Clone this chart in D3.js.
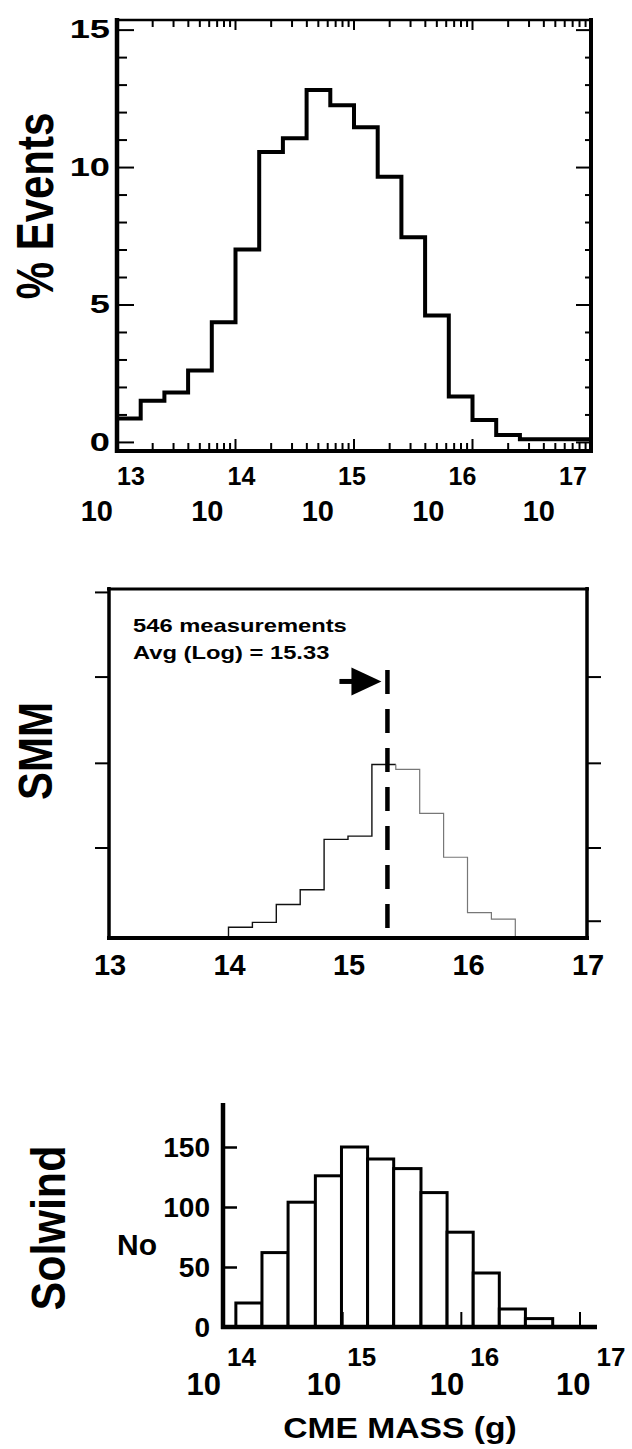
<!DOCTYPE html>
<html>
<head>
<meta charset="utf-8">
<script src="https://cdn.jsdelivr.net/npm/d3@7"></script>
<style>
  body { margin: 0; background: #fff; }
  text { font-family: "Liberation Sans", Arial, Helvetica, sans-serif; font-weight: bold; fill: #000; }
</style>
</head>
<body>
<script>
// ---- data ----
// top panel: % of events per 0.2 dex mass bin (log10 g)
var topEdges = [13.0, 13.2, 13.4, 13.6, 13.8, 14.0, 14.2, 14.4, 14.6, 14.8, 15.0,
                15.2, 15.4, 15.6, 15.8, 16.0, 16.2, 16.4, 16.6, 16.8, 17.0];
var topPct = [0.85, 1.5, 1.8, 2.6, 4.35, 7.0, 10.55, 11.05, 12.8, 12.25,
              11.45, 9.65, 7.45, 4.6, 1.65, 0.8, 0.25, 0.1, 0.1, 0.1];
var topYTicks = [0, 5, 10, 15];
var topDecades = [13, 14, 15, 16, 17];

// middle panel: SMM counts
var smmEdges = [14.0, 14.2, 14.4, 14.6, 14.8, 15.0, 15.2, 15.4, 15.6, 15.8, 16.0, 16.2, 16.4];
var smmCounts = [6, 9, 20, 29, 60, 62, 106, 103, 76, 49, 15, 11];
var smmXTicks = [13, 14, 15, 16, 17];
var smmTicksLeft = [55, 107, 160, 212];
var smmTicksRight = [10, 55, 107, 160];
var smmN = 546, smmAvg = 15.33;

// bottom panel: Solwind numbers
var solEdges = [14.10, 14.32, 14.54, 14.77, 14.99, 15.21, 15.43, 15.66, 15.88, 16.10, 16.32, 16.54, 16.77];
var solCounts = [20, 62, 104, 126, 150, 140, 132, 112, 79, 45, 15, 7];
var solYTicks = [0, 50, 100, 150];
var solDecades = [14, 15, 16, 17];

var svg = d3.select("body")
            .append("svg")
              .attr("width", 632)
              .attr("height", 1449);

svg.append("rect").attr("width", 632).attr("height", 1449).attr("fill", "#fff");

// text helper, sx stretches the glyphs horizontally like the scanned figure
function label(g, x, y, str, size, anchor, sx, rot) {
  return g.append("text")
          .attr("transform", "translate(" + x + "," + y + ") scale(" + (sx || 1) + ",1)" + (rot ? " rotate(-90)" : ""))
          .attr("text-anchor", anchor)
          .attr("font-size", size)
          .text(str);
}

function hline(g, x1, x2, y, w) {
  g.append("line").attr("x1", x1).attr("x2", x2).attr("y1", y).attr("y2", y)
   .attr("stroke", "#000").attr("stroke-width", w);
}
function vline(g, x, y1, y2, w) {
  g.append("line").attr("x1", x).attr("x2", x).attr("y1", y1).attr("y2", y2)
   .attr("stroke", "#000").attr("stroke-width", w);
}

// y ticks through d3 axes
function ticks(g, axis, tx, ty, w) {
  var a = g.append("g")
           .attr("transform", "translate(" + tx + "," + ty + ")")
           .call(axis);
  a.select(".domain").remove();
  a.selectAll("line").attr("stroke", "#000").attr("stroke-width", w);
  a.selectAll("text").remove();
}

// tick marks along a (log) x scale, len < 0 points up
function xTicks(g, scale, values, y, len, w) {
  g.append("g")
   .selectAll("line")
   .data(values)
   .enter()
   .append("line")
     .attr("x1", function(d) { return scale(d); })
     .attr("x2", function(d) { return scale(d); })
     .attr("y1", y)
     .attr("y2", y + len)
     .attr("stroke", "#000")
     .attr("stroke-width", w);
}

// ================= top panel =================
var gTop = svg.append("g");
var xTop = d3.scaleLog().domain([1e13, 1e17]).range([117, 591]);
var yTop = d3.scaleLinear().domain([-0.33, 15.35]).range([451, 20]);

var topMinorX = [];
topDecades.slice(0, -1).forEach(function(d) {
  for (var m = 2; m <= 9; m++) topMinorX.push(m * Math.pow(10, d));
});
var topMajorX = topDecades.map(function(d) { return Math.pow(10, d); });
var topMinorY = d3.range(0, 16).filter(function(v) { return topYTicks.indexOf(v) < 0; });

ticks(gTop, d3.axisRight(yTop).tickValues(topMinorY).tickSize(10).tickFormat(""), 117, 0, 2);
ticks(gTop, d3.axisRight(yTop).tickValues(topYTicks).tickSize(17).tickFormat(""), 117, 0, 2);
ticks(gTop, d3.axisLeft(yTop).tickValues(topMinorY).tickSize(6).tickFormat(""), 591, 0, 2);
ticks(gTop, d3.axisLeft(yTop).tickValues(topYTicks).tickSize(15).tickFormat(""), 591, 0, 2);

// step outline of the histogram
var topPts = [];
topPct.forEach(function(v, i) {
  topPts.push([topEdges[i], v]);
  topPts.push([topEdges[i + 1], v]);
});
gTop.append("path")
    .attr("d", d3.line()
                 .x(function(d) { return xTop(Math.pow(10, d[0])); })
                 .y(function(d) { return yTop(d[1]); })(topPts))
    .attr("fill", "none")
    .attr("stroke", "#000")
    .attr("stroke-width", 4)
    .attr("stroke-linejoin", "miter");

vline(gTop, 117, 18, 453, 4.5);
vline(gTop, 591, 18, 453, 4);
hline(gTop, 115, 593, 451, 4);
hline(gTop, 115, 593, 20, 2.5);

// log ticks on the bottom and top edges, drawn over the frame
xTicks(gTop, xTop, topMinorX, 452, -9, 2);
xTicks(gTop, xTop, topMajorX, 452, -13, 2);
xTicks(gTop, xTop, topMinorX, 20, 7, 2);
xTicks(gTop, xTop, topMajorX, 20, 10, 2);

topYTicks.forEach(function(v) {
  label(gTop, 110, yTop(v), v, 25, "end", 1.45).attr("dy", "0.35em");
});
topDecades.forEach(function(d) {
  var cx = xTop(Math.pow(10, d)) - 4 - 8 * (d - 13);
  label(gTop, cx, 521, "10", 29, "end");
  label(gTop, cx + 4, 485, d, 25, "start");
});
label(gTop, 53, 206, "% Events", 42, "middle", 1.25, true);

// ================= middle panel (SMM) =================
var gSmm = svg.append("g");
var xS = d3.scaleLinear().domain([13, 17]).range([109, 587]);
var yS = d3.scaleLinear().domain([0, 213.8]).range([937, 589]);

ticks(gSmm, d3.axisLeft(yS).tickValues(smmTicksLeft).tickSize(14).tickFormat(""), 109, 0, 2);
ticks(gSmm, d3.axisRight(yS).tickValues(smmTicksRight).tickSize(14).tickFormat(""), 587, 0, 2);

var smmPts = [[smmEdges[0], 0]];
smmCounts.forEach(function(c, i) {
  smmPts.push([smmEdges[i], c]);
  smmPts.push([smmEdges[i + 1], c]);
});
smmPts.push([smmEdges[smmEdges.length - 1], 0]);

// the scan is faint on the right half of the SMM outline
var smmLine = d3.line()
                .x(function(d) { return xS(d[0]); })
                .y(function(d) { return yS(d[1]); });
var split = 15;
gSmm.append("path")
    .attr("d", smmLine(smmPts.slice(0, split)))
    .attr("fill", "none")
    .attr("stroke", "#111")
    .attr("stroke-width", 1.4);
gSmm.append("path")
    .attr("d", smmLine(smmPts.slice(split - 1)))
    .attr("fill", "none")
    .attr("stroke", "#777")
    .attr("stroke-width", 1.2);

// average marker
gSmm.append("line")
    .attr("x1", xS(smmAvg)).attr("x2", xS(smmAvg))
    .attr("y1", yS(164)).attr("y2", yS(5))
    .attr("stroke", "#000")
    .attr("stroke-width", 4.5)
    .attr("stroke-dasharray", "24,15");

var tipX = xS(smmAvg) - 6, arrowY = yS(157);
hline(gSmm, tipX - 42, tipX - 26, arrowY, 5);
gSmm.append("path")
    .attr("d", "M" + tipX + "," + arrowY + "L" + (tipX - 30) + "," + (arrowY - 14) + "L" + (tipX - 30) + "," + (arrowY + 14) + "Z")
    .attr("fill", "#000");

vline(gSmm, 109, 587, 940, 3.5);
vline(gSmm, 587, 587, 940, 3.5);
hline(gSmm, 107, 589, 589, 3);
hline(gSmm, 107, 589, 938, 4);

label(gSmm, xS(13) + 24, yS(213.8) + 43, smmN + " measurements", 19, "start", 1.25);
label(gSmm, xS(13) + 24, yS(213.8) + 70, "Avg (Log) = " + smmAvg.toFixed(2), 19, "start", 1.25);

smmXTicks.forEach(function(v) {
  label(gSmm, xS(v) + 1, 975, v, 29, "middle");
});
label(gSmm, 52, 751, "SMM", 42, "middle", 1.13, true);

// ================= bottom panel (Solwind) =================
var gSol = svg.append("g");
var xW = d3.scaleLog().domain([1e14, 1e17]).range([224, 580]);
var yW = d3.scaleLinear().domain([0, 187]).range([1327, 1102.6]);

gSol.selectAll("rect.bar")
    .data(solCounts)
    .enter()
    .append("rect")
      .attr("class", "bar")
      .attr("x", function(d, i) { return xW(Math.pow(10, solEdges[i])); })
      .attr("width", function(d, i) { return xW(Math.pow(10, solEdges[i + 1])) - xW(Math.pow(10, solEdges[i])); })
      .attr("y", function(d) { return yW(d); })
      .attr("height", function(d) { return yW(0) - yW(d); })
      .attr("fill", "#fff")
      .attr("stroke", "#000")
      .attr("stroke-width", 3);

ticks(gSol, d3.axisRight(yW).tickValues(solYTicks.slice(1)).tickSize(14).tickFormat(""), 223, 0, 2.5);

vline(gSol, 223, 1103, 1329, 4.5);
hline(gSol, 221, 597, 1327, 4.5);
xTicks(gSol, xW, solDecades.slice(1).map(function(d) { return Math.pow(10, d); }), 1327, -15, 2);

solYTicks.forEach(function(v) {
  label(gSol, 210, yW(v), v, 28, "end").attr("dy", "0.35em");
});
label(gSol, 117, 1255, "No", 30, "start");

solDecades.forEach(function(d) {
  var b = xW(Math.pow(10, d)) - 1 + 1.5 * (d - 14) * (d - 14);
  label(gSol, b - 2, 1395, "10", 31, "end");
  label(gSol, b + 4, 1366, d, 26, "start");
});
label(gSol, 400, 1438, "CME MASS (g)", 29, "middle", 1.16);
label(gSol, 65, 1228, "Solwind", 43, "middle", 1.13, true);
</script>
</body>
</html>
